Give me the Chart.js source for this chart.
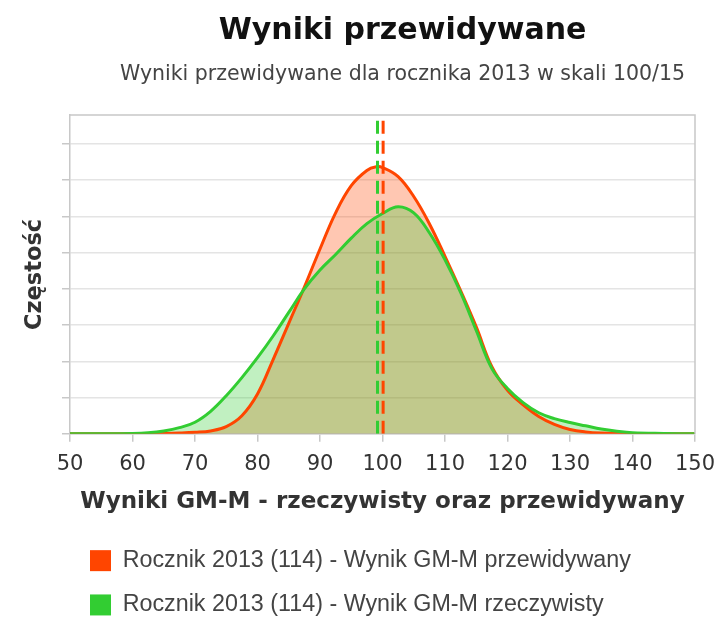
<!DOCTYPE html>
<html>
<head>
<meta charset="utf-8">
<script src="https://cdn.jsdelivr.net/npm/chart.js@4/dist/chart.umd.min.js"></script>
<style>
  html, body { margin: 0; padding: 0; background: #ffffff; }
  #wrap { width: 722px; height: 618px; position: relative; }
</style>
</head>
<body>
<div id="wrap"><canvas id="c"></canvas></div>
<script>
// ---- data ----
const scoresPredicted = [50, 55, 60, 65, 67.5, 70, 72.5, 75, 77.5, 80, 82.5, 85, 87.5, 90, 92.5, 95, 97.5, 99, 100, 102.5, 105, 107.5, 110, 112.5, 115, 117.5, 120, 122.5, 125, 127.5, 130, 132.5, 135, 140, 150];
const freqPredicted   = [0, 0, 0, 0.01, 0.02, 0.04, 0.08, 0.2, 0.5, 1.1, 2.05, 3.05, 4.05, 5.1, 6.1, 6.85, 7.27, 7.37, 7.35, 7.1, 6.55, 5.8, 4.9, 3.95, 2.95, 1.85, 1.2, 0.8, 0.48, 0.26, 0.12, 0.05, 0.02, 0, 0];

const scoresActual = [50, 55, 60, 62.5, 65, 67.5, 70, 72.5, 75, 77.5, 80, 82.5, 85, 87.5, 90, 92.5, 95, 97.5, 100, 102.5, 105, 107.5, 110, 112.5, 115, 117.5, 120, 122.5, 125, 127.5, 130, 132.5, 135, 137.5, 140, 145, 150];
const freqActual   = [0, 0, 0.01, 0.03, 0.08, 0.17, 0.32, 0.62, 1.05, 1.55, 2.1, 2.7, 3.35, 4.0, 4.52, 4.95, 5.4, 5.8, 6.08, 6.27, 6.1, 5.55, 4.8, 3.9, 2.85, 1.8, 1.25, 0.86, 0.58, 0.42, 0.31, 0.22, 0.13, 0.07, 0.03, 0.01, 0];

const meanPredicted = 100.1;
const meanActual = 99.2;

const xTicks = [50, 60, 70, 80, 90, 100, 110, 120, 130, 140, 150];
const yMax = 8.8;

const labelPredicted = 'Rocznik 2013 (114) - Wynik GM-M przewidywany';
const labelActual = 'Rocznik 2013 (114) - Wynik GM-M rzeczywisty';
const titleText = 'Wyniki przewidywane';
const subtitleText = 'Wyniki przewidywane dla rocznika 2013 w skali 100/15';
const xTitle = 'Wyniki GM-M - rzeczywisty oraz przewidywany';
const yTitle = 'Częstość';

const ORANGE = '#ff4500';
const GREEN = '#32cd32';

// ---- chart ----
const toPts = (xs, ys) => xs.map((x, i) => ({ x: x, y: ys[i] }));

const shiftPlugin = {
  id: 'shiftBoxes',
  afterLayout(chart) {
    chart.boxes.forEach(b => {
      if (b === chart.legend) {
        b.left = 69;
        b.top = 528;
        b.right = 722;
        b.bottom = 618;
        b.width = b.right - b.left;
        b.height = b.bottom - b.top;
      } else if (b.options && typeof b.options.text === 'string' && b.options.text.length) {
        b.left = 110;
        b.right = 695;
      }
    });
  }
};

const borderPlugin = {
  id: 'plotBorder',
  afterDraw(chart) {
    const a = chart.chartArea, ctx = chart.ctx;
    ctx.save();
    ctx.strokeStyle = '#c8c8c8';
    ctx.lineWidth = 1.5;
    ctx.beginPath();
    ctx.moveTo(a.left, a.top);
    ctx.lineTo(a.right, a.top);
    ctx.lineTo(a.right, a.bottom);
    ctx.stroke();
    ctx.restore();
  }
};

new Chart(document.getElementById('c'), {
  type: 'line',
  data: {
    datasets: [
      {
        label: labelPredicted,
        data: toPts(scoresPredicted, freqPredicted),
        borderColor: ORANGE,
        backgroundColor: 'rgba(255,69,0,0.3)',
        borderWidth: 3,
        fill: 'origin',
        pointRadius: 0,
        tension: 0.4,
        order: 3
      },
      {
        label: labelActual,
        data: toPts(scoresActual, freqActual),
        borderColor: GREEN,
        backgroundColor: 'rgba(50,205,50,0.3)',
        borderWidth: 3,
        fill: 'origin',
        pointRadius: 0,
        tension: 0.4,
        order: 2
      },
      {
        label: 'meanPredicted',
        data: [{ x: meanPredicted, y: 0 }, { x: meanPredicted, y: yMax }],
        borderColor: ORANGE,
        borderWidth: 3,
        borderDash: [13, 7],
        fill: false,
        pointRadius: 0,
        order: 1
      },
      {
        label: 'meanActual',
        data: [{ x: meanActual, y: 0 }, { x: meanActual, y: yMax }],
        borderColor: GREEN,
        borderWidth: 3,
        borderDash: [13, 7],
        fill: false,
        pointRadius: 0,
        order: 1
      }
    ]
  },
  options: {
    responsive: true,
    maintainAspectRatio: false,
    animation: false,
    layout: { padding: { left: 10, right: 27, top: 0, bottom: 4 } },
    plugins: {
      filler: { drawTime: 'beforeDatasetsDraw' },
      tooltip: { enabled: false },
      title: {
        display: true,
        text: titleText,
        color: '#111',
        font: { family: 'DejaVu Sans', size: 30, weight: 'bold' },
        padding: { top: 12.8, bottom: 4 }
      },
      subtitle: {
        display: true,
        text: subtitleText,
        color: '#444',
        font: { family: 'DejaVu Sans', size: 20.5 },
        padding: { top: 9.3, bottom: 28.3 }
      },
      legend: {
        position: 'bottom',
        align: 'start',
        labels: {
          color: '#444',
          font: { family: 'Liberation Sans', size: 23.3 },
          boxWidth: 21,
          boxHeight: 21,
          padding: 21,
          filter: (item) => item.datasetIndex < 2,
          sort: (a, b) => a.datasetIndex - b.datasetIndex,
          generateLabels: (chart) => {
            const items = Chart.defaults.plugins.legend.labels.generateLabels(chart);
            items.forEach(it => {
              const ds = chart.data.datasets[it.datasetIndex];
              it.fillStyle = ds.borderColor;
              it.strokeStyle = ds.borderColor;
              it.lineWidth = 0;
            });
            return items;
          }
        }
      }
    },
    scales: {
      x: {
        type: 'linear',
        min: 50,
        max: 150,
        afterBuildTicks: (axis) => { axis.ticks = xTicks.map(v => ({ value: v })); },
        afterFit: (axis) => { axis.paddingLeft = 0; axis.paddingRight = 0; },
        ticks: {
          color: '#333',
          font: { family: 'DejaVu Sans', size: 21, lineHeight: 1 },
          padding: 12,
          maxRotation: 0
        },
        grid: {
          drawOnChartArea: false,
          drawTicks: true,
          tickLength: 8,
          tickColor: '#c8c8c8',
          lineWidth: 1.5
        },
        border: { color: '#c8c8c8', width: 1.5 },
        title: {
          display: true,
          text: xTitle,
          color: '#333',
          font: { family: 'DejaVu Sans', size: 23, weight: 'bold' },
          padding: { top: 1, bottom: 0 }
        }
      },
      y: {
        type: 'linear',
        min: 0,
        max: yMax,
        afterBuildTicks: (axis) => { axis.ticks = axis.ticks.filter(t => t.value <= 8); },
        ticks: { display: false, stepSize: 1 },
        grid: {
          color: '#e4e4e4',
          lineWidth: 1.5,
          drawTicks: true,
          tickLength: 8,
          tickColor: '#c8c8c8'
        },
        border: { color: '#c8c8c8', width: 1.5 },
        title: {
          display: true,
          text: yTitle,
          color: '#333',
          font: { family: 'DejaVu Sans', size: 22.5, weight: 'bold' },
          padding: { top: 11.5, bottom: 13.5 }
        }
      }
    }
  },
  plugins: [shiftPlugin, borderPlugin]
});
</script>
</body>
</html>
